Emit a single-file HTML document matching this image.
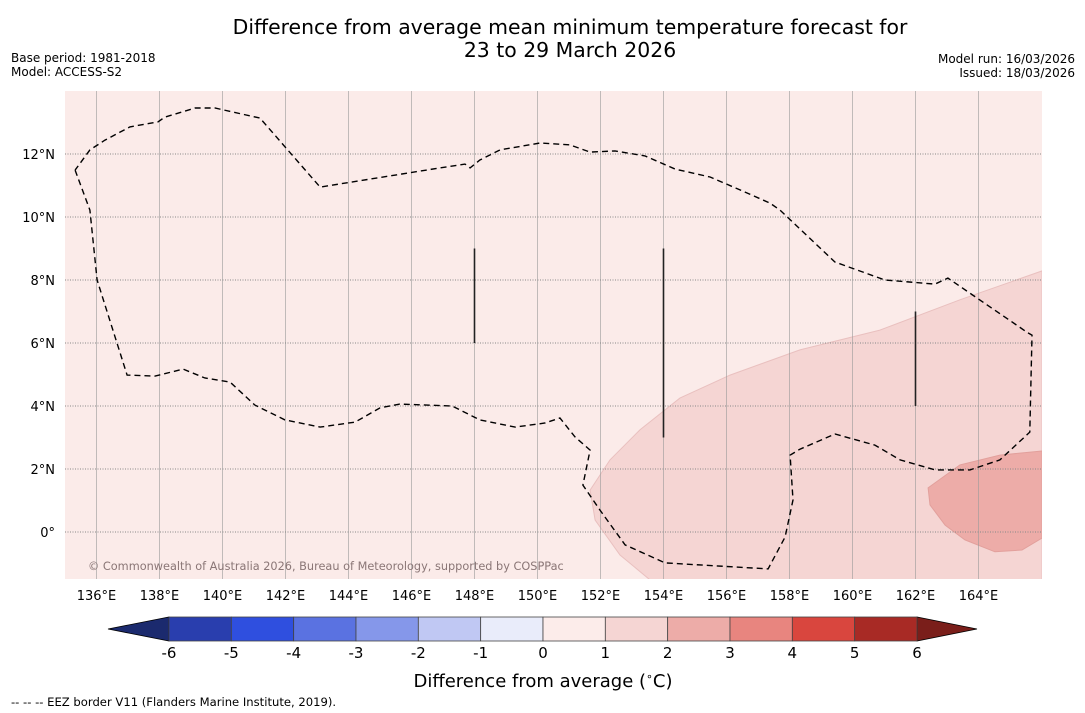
<!DOCTYPE html>
<html><head><meta charset="utf-8"><style>
body{margin:0;background:#fff;font-family:"DejaVu Sans","Liberation Sans",sans-serif;}
svg{display:block}
</style></head><body>
<svg id="chart" width="1085" height="713" viewBox="0 0 1085 713">
<text x="570" y="34" text-anchor="middle" font-size="20.4">Difference from average mean minimum temperature forecast for</text>
<text x="570" y="57" text-anchor="middle" font-size="20.4">23 to 29 March 2026</text>
<text x="11" y="62" font-size="12">Base period: 1981-2018</text>
<text x="11" y="76" font-size="12">Model: ACCESS-S2</text>
<text x="1075" y="63" font-size="12" text-anchor="end">Model run: 16/03/2026</text>
<text x="1075" y="77" font-size="12" text-anchor="end">Issued: 18/03/2026</text>
<g id="map"></g>
<g id="cbar"></g>
<text x="543" y="687" text-anchor="middle" font-size="18">Difference from average (<tspan font-size="11" dy="-7">∘</tspan><tspan dy="7">C)</tspan></text>
<text x="11" y="706" font-size="11.6">--  --  -- EEZ border V11 (Flanders Marine Institute, 2019).</text>
</svg>
<script>
const lonTicks=[136,138,140,142,144,146,148,150,152,154,156,158,160,162,164];
const latTicks=[12,10,8,6,4,2,0];
const latTickLabels=["12°N","10°N","8°N","6°N","4°N","2°N","0°"];
const band1to2=[[166.02,8.29],[163.41,7.37],[160.87,6.41],[158.33,5.78],[156.11,4.98],[154.52,4.25],[153.25,3.24],[152.30,2.29],[151.67,1.33],[151.83,0.38],[152.62,-0.73],[153.57,-1.52],[166.02,-1.52]];
const band2to3=[[166.02,2.57],[164.68,2.44],[163.41,2.13],[162.40,1.40],[162.46,0.86],[162.94,0.22],[163.57,-0.25],[164.52,-0.63],[165.38,-0.57],[166.02,-0.19]];
const eezBorder=[[135.32,11.49],[135.79,10.22],[136.02,8.00],[136.97,4.98],[137.86,4.95],[138.75,5.17],[139.44,4.89],[140.24,4.76],[141.03,4.03],[141.98,3.56],[143.10,3.33],[144.21,3.49],[145.00,3.94],[145.63,4.06],[147.29,4.00],[148.17,3.56],[149.29,3.33],[150.24,3.46],[150.71,3.62],[151.19,3.02],[151.67,2.60],[151.44,1.49],[151.98,0.70],[152.78,-0.41],[154.05,-0.98],[157.32,-1.17],[157.86,-0.16],[158.11,1.02],[158.02,2.44],[158.33,2.63],[159.44,3.11],[160.71,2.76],[161.51,2.29],[162.62,1.97],[163.73,1.97],[164.68,2.29],[165.63,3.17],[165.70,6.25],[165.57,6.32],[163.03,8.06],[162.62,7.87],[161.03,8.00],[159.44,8.57],[157.70,10.22],[157.38,10.44],[156.43,10.86],[155.48,11.27],[154.37,11.52],[153.41,11.94],[152.46,12.10],[151.67,12.06],[151.03,12.29],[150.08,12.35],[148.81,12.13],[148.17,11.81],[147.86,11.56],[147.70,11.68],[146.90,11.56],[143.10,10.95],[141.19,13.14],[139.76,13.46],[139.13,13.46],[138.17,13.17],[137.95,13.02],[137.06,12.86],[136.27,12.44],[135.79,12.13],[135.32,11.49]];
const blackLines=[[148,9,6],[154,9,3],[162,7,4]];
const cbLevels=[-6,-5,-4,-3,-2,-1,0,1,2,3,4,5,6];
const cbColors=["#293eae","#2f4fdf","#5a72e1","#8597ea","#c0c8f3","#e9ecfa","#fcecea","#f5d5d3","#edaca8","#e8857f","#d9463e","#a82a25"];
const NS="http://www.w3.org/2000/svg";
const X0=65,X1=1042,Y0=91,Y1=579,LON0=135,LAT0=14,S=31.5;
const xs=l=>X0+(l-LON0)*S, ys=l=>Y0+(LAT0-l)*S;
function mk(p,tag,a){const e=document.createElementNS(NS,tag);for(const k in a)e.setAttribute(k,a[k]);p.appendChild(e);return e;}
const map=document.getElementById('map');
const clip=mk(map,'clipPath',{id:'mc'});mk(clip,'rect',{x:X0,y:Y0,width:X1-X0,height:Y1-Y0});
const bg=mk(map,'rect',{x:X0,y:Y0,width:X1-X0,height:Y1-Y0,fill:"#fbebe9"});


const g=mk(map,'g',{'clip-path':'url(#mc)'});
const pts=a=>a.map(p=>xs(p[0]).toFixed(1)+','+ys(p[1]).toFixed(1)).join(' ');
const b1=mk(g,'polygon',{points:pts(band1to2),fill:"#f5d5d3",stroke:"#e9c0bf","stroke-width":1});


const b2=mk(g,'polygon',{points:pts(band2to3),fill:"#edaca8",stroke:"#e2a09c","stroke-width":1});


lonTicks.forEach(l=>{const ln=mk(g,'line',{x1:xs(l),x2:xs(l),y1:Y0,y2:Y1,stroke:"#999",'stroke-opacity':0.6,'stroke-width':1});


const t=mk(map,'text',{x:xs(l),y:600,'text-anchor':'middle','font-size':13});t.textContent=l+"°E";

});
latTicks.forEach((l,i)=>{const ln=mk(g,'line',{x1:X0,x2:X1,y1:ys(l),y2:ys(l),stroke:"#888",'stroke-dasharray':'1,1.5','stroke-width':1});


const t=mk(map,'text',{x:55,y:ys(l)+5,'text-anchor':'end','font-size':13});t.textContent=latTickLabels[i];

});
const ez=mk(g,'polyline',{points:pts(eezBorder),fill:'none',stroke:'#000','stroke-width':1.4,'stroke-dasharray':'6,4'});


blackLines.forEach(b=>{const ln=mk(g,'line',{x1:xs(b[0]),x2:xs(b[0]),y1:ys(b[1]),y2:ys(b[2]),stroke:'#222','stroke-width':1.6});

});
const cp=mk(map,'text',{x:88,y:570,'font-size':11.3,fill:'#8a7676'});cp.textContent="© Commonwealth of Australia 2026, Bureau of Meteorology, supported by COSPPac";


const cb=document.getElementById('cbar');
const CX0=169,CX1=917,CY0=617,CY1=641;
const cx=v=>CX0+(v-cbLevels[0])*(CX1-CX0)/(cbLevels[cbLevels.length-1]-cbLevels[0]);
const la=mk(cb,'polygon',{points:`${CX0},${CY0} ${CX0},${CY1} 108,629`,fill:'#1b2a6e',stroke:'#000','stroke-width':0.8});


const ha=mk(cb,'polygon',{points:`${CX1},${CY0} ${CX1},${CY1} 977,629`,fill:'#7a1e1a',stroke:'#000','stroke-width':0.8});


cbColors.forEach((c,i)=>{const r=mk(cb,'rect',{x:cx(cbLevels[i]),y:CY0,width:cx(cbLevels[i+1])-cx(cbLevels[i]),height:CY1-CY0,fill:c,stroke:'#444','stroke-width':0.8});

});
cbLevels.forEach(v=>{const t=mk(cb,'text',{x:cx(v),y:658,'text-anchor':'middle','font-size':15});t.textContent=v;

});
</script>
</body></html>
